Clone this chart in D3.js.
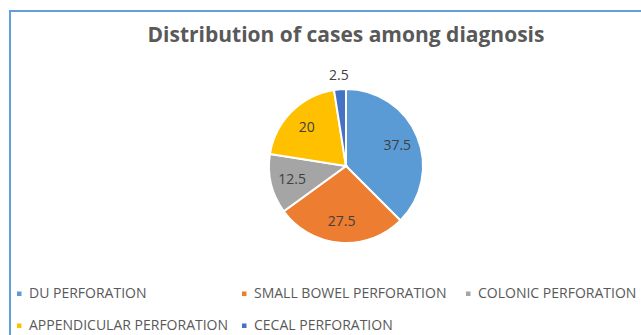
<!DOCTYPE html>
<html>
<head>
<meta charset="utf-8">
<title>Distribution of cases among diagnosis</title>
<script src="https://cdn.jsdelivr.net/npm/d3@7"></script>
<style>
  body { margin: 0; background: #fff; }
  text { font-family: "Open Sans", sans-serif; }
  .slice { stroke: #fff; stroke-width: 2px; }
</style>
</head>
<body>
<div id="chart"></div>
<script>
var diagnosis = ["DU PERFORATION", "SMALL BOWEL PERFORATION", "COLONIC PERFORATION", "APPENDICULAR PERFORATION", "CECAL PERFORATION"];
var percent = [37.5, 27.5, 12.5, 20, 2.5];
var colours = ["#5B9BD5", "#ED7D31", "#A5A5A5", "#FFC000", "#4472C4"];

var width = 641, height = 335;
var svg = d3.select("#chart").append("svg")
    .attr("width", width)
    .attr("height", height);

// chart frame (cropped on the right and bottom)
svg.append("path")
    .attr("d", "M10,335 V11 H641")
    .attr("fill", "none")
    .attr("stroke", "#62a0dc")
    .attr("stroke-width", 2);

svg.append("text")
    .attr("x", 346)
    .attr("y", 42)
    .attr("text-anchor", "middle")
    .attr("font-size", 21)
    .attr("font-weight", "bold")
    .attr("fill", "#595959")
    .text("Distribution of cases among diagnosis");

var cx = 346, cy = 166, r = 77;
var pie = d3.pie().sort(null).value(function(d) { return d; });
var arcs = pie(percent);
var arc = d3.arc().innerRadius(0).outerRadius(r);
var labelArc = d3.arc().innerRadius(r * 0.72).outerRadius(r * 0.72);
var outerArc = d3.arc().innerRadius(r + 14).outerRadius(r + 14);

var g = svg.append("g").attr("transform", "translate(" + cx + "," + cy + ")");
g.selectAll(".slice")
    .data(arcs)
  .enter().append("path")
    .attr("class", "slice")
    .attr("d", arc)
    .attr("fill", function(d, i) { return colours[i]; });

g.selectAll(".lbl")
    .data(arcs)
  .enter().append("text")
    .attr("class", "lbl")
    .attr("transform", function(d) {
      var c = (d.data < 5 ? outerArc : labelArc).centroid(d);
      return "translate(" + c + ")";
    })
    .attr("dy", "0.35em")
    .attr("text-anchor", "middle")
    .attr("font-size", 14)
    .attr("fill", "#404040")
    .text(function(d) { return d.data; });

// legend, two rows
var legendPos = [[17, 293], [242, 293], [466, 293], [17, 325], [242, 325]];
var leg = svg.selectAll(".legend")
    .data(diagnosis)
  .enter().append("g")
    .attr("class", "legend")
    .attr("transform", function(d, i) { return "translate(" + legendPos[i] + ")"; });
leg.append("rect")
    .attr("x", 0).attr("y", -1.5)
    .attr("width", 4.5).attr("height", 4.5)
    .attr("fill", function(d, i) { return colours[i]; });
leg.append("text")
    .attr("x", 12)
    .attr("dy", "0.35em")
    .attr("font-size", 14)
    .attr("fill", "#595959")
    .text(function(d) { return d; });
</script>
</body>
</html>
